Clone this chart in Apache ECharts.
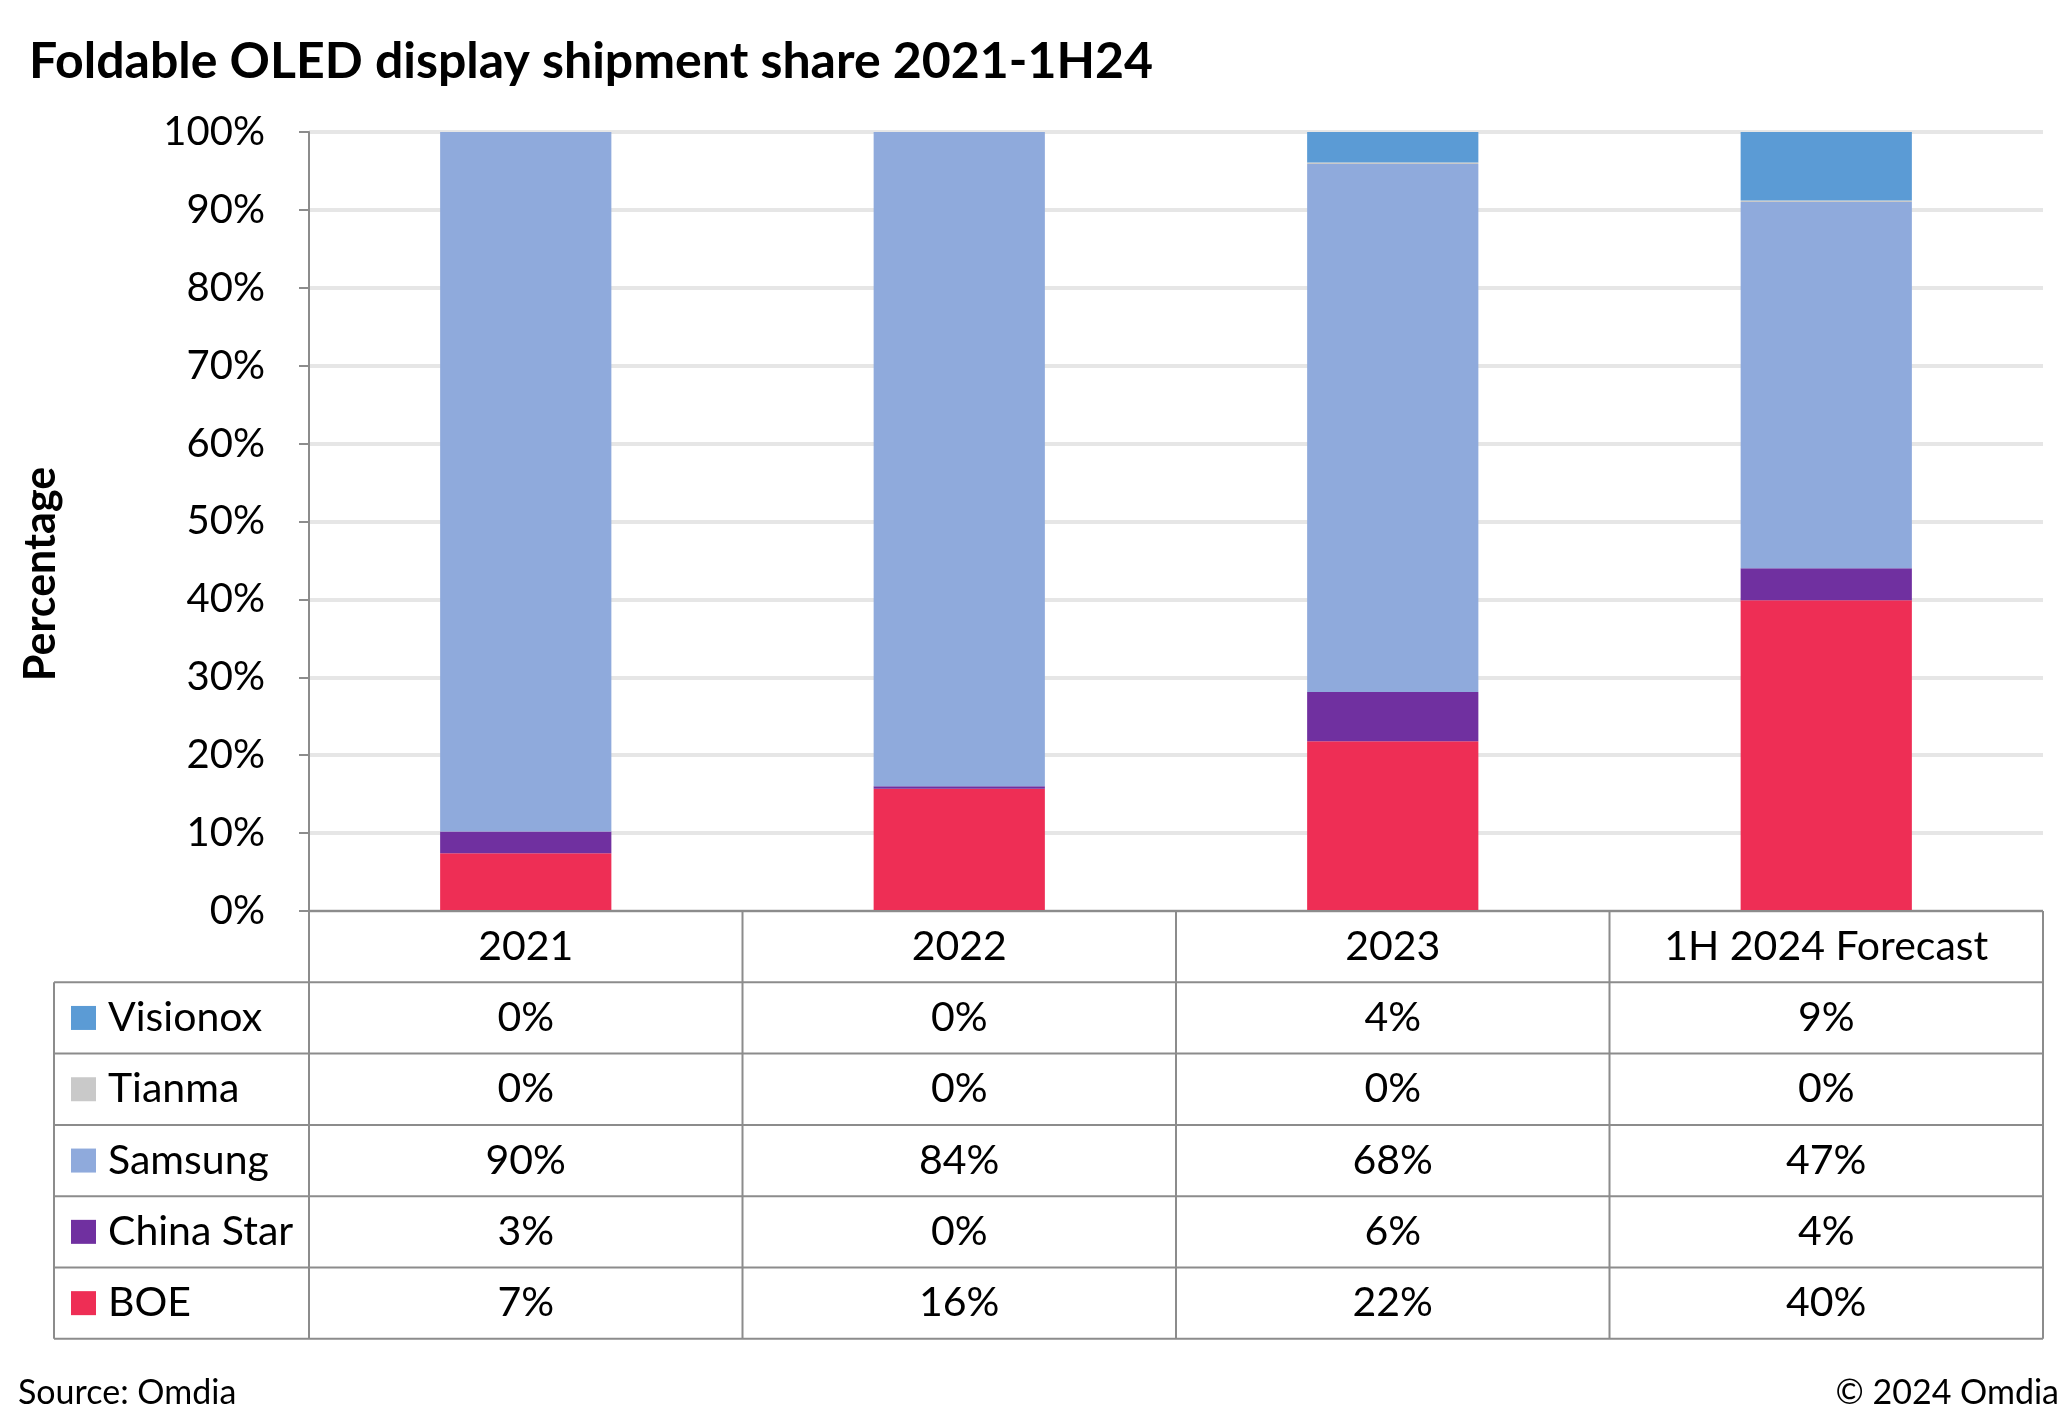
<!DOCTYPE html>
<html>
<head>
<meta charset="utf-8">
<script src="https://cdn.jsdelivr.net/npm/echarts@6/dist/echarts.min.js"></script>
<style>
html,body{margin:0;padding:0;background:#fff;}
#main{width:2068px;height:1421px;}
</style>
</head>
<body>
<div id="main"></div>
<script>
const titleText = 'Foldable OLED display shipment share 2021-1H24';
const categories = ['2021', '2022', '2023', '1H 2024 Forecast'];
const seriesNames = ['BOE', 'China Star', 'Samsung', 'Tianma', 'Visionox'];
const boe = [7.4, 15.7, 21.8, 39.9];
const chinaStar = [2.8, 0.3, 6.3, 4.1];
const samsung = [89.8, 84.0, 67.8, 47.0];
const tianma = [0, 0, 0.2, 0.2];
const visionox = [0, 0, 3.9, 8.8];
const colors = ['#EE2E55', '#7030A0', '#8FAADC', '#C9C9C9', '#5B9BD5'];
const yMin = 0, yMax = 100, yInterval = 10;
const sourceText = 'Source: Omdia';
const copyrightText = '\u00A9 2024 Omdia';

const FONT = 'Lato';
const seriesData = [boe, chinaStar, samsung, tianma, visionox];

const chart = echarts.init(document.getElementById('main'), null, {renderer: 'canvas'});

const series = seriesNames.map((n, i) => ({
  name: n,
  type: 'bar',
  stack: 'total',
  data: seriesData[i],
  barWidth: '39.5%',
  itemStyle: {color: colors[i]},
  emphasis: {disabled: true}
}));

chart.setOption({
  animation: false,
  backgroundColor: '#ffffff',
  textStyle: {fontFamily: FONT},
  title: {
    text: titleText,
    left: 24, top: 32,
    textStyle: {fontFamily: FONT, fontWeight: 'bold', fontSize: 50, color: '#000'}
  },
  grid: {left: 309, right: 25, top: 132, bottom: 510, containLabel: false},
  xAxis: {
    type: 'category',
    data: categories,
    axisLine: {show: false},
    axisTick: {show: false},
    axisLabel: {show: false}
  },
  yAxis: {
    type: 'value',
    min: yMin, max: yMax, interval: yInterval,
    axisLine: {show: true, lineStyle: {color: '#8c8c8c', width: 2}},
    axisTick: {show: true, inside: false, length: 10, lineStyle: {color: '#8c8c8c', width: 2}},
    axisLabel: {formatter: '{value}%', fontFamily: FONT, fontSize: 40, color: '#000', margin: 44},
    splitLine: {show: true, lineStyle: {color: '#e6e6e6', width: 4}}
  },
  series: series
});

function buildTable() {
  const c0 = chart.convertToPixel({xAxisIndex: 0}, 0);
  const c1 = chart.convertToPixel({xAxisIndex: 0}, 1);
  const band = c1 - c0;
  const base = chart.convertToPixel({yAxisIndex: 0}, yMin);
  const gridLeft = c0 - band / 2;
  const gridRight = chart.convertToPixel({xAxisIndex: 0}, categories.length - 1) + band / 2;
  const rowH = 71.3;
  const tableLeft = 54;
  const nRows = seriesNames.length;
  const bottom = base + rowH * (nRows + 1);
  const lineStyle = {stroke: '#8c8c8c', lineWidth: 2};
  const FS = 41;
  const g = [];
  g.push({type: 'line', shape: {x1: gridLeft, y1: base, x2: gridRight, y2: base}, style: lineStyle, z: 10});
  for (let k = 1; k <= nRows + 1; k++) {
    const y = base + rowH * k;
    g.push({type: 'line', shape: {x1: tableLeft, y1: y, x2: gridRight, y2: y}, style: lineStyle, z: 10});
  }
  g.push({type: 'line', shape: {x1: tableLeft, y1: base + rowH, x2: tableLeft, y2: bottom}, style: lineStyle, z: 10});
  for (let j = 0; j <= categories.length; j++) {
    const x = gridLeft + band * j;
    g.push({type: 'line', shape: {x1: x, y1: base, x2: x, y2: bottom}, style: lineStyle, z: 10});
  }
  categories.forEach((c, j) => {
    g.push({type: 'text', x: gridLeft + band * (j + 0.5), y: base + rowH / 2,
      style: {text: c, fontFamily: FONT, fontSize: FS, fill: '#000', align: 'center', verticalAlign: 'middle'}, z: 11});
  });
  for (let r = 0; r < nRows; r++) {
    const si = nRows - 1 - r;
    const yc = base + rowH * (r + 1) + rowH / 2;
    g.push({type: 'rect', shape: {x: tableLeft + 17, y: yc - 12, width: 25, height: 24},
      style: {fill: colors[si]}, z: 11});
    g.push({type: 'text', x: tableLeft + 54, y: yc,
      style: {text: seriesNames[si], fontFamily: FONT, fontSize: FS, fill: '#000', align: 'left', verticalAlign: 'middle'}, z: 11});
    seriesData[si].forEach((v, j) => {
      g.push({type: 'text', x: gridLeft + band * (j + 0.5), y: yc,
        style: {text: Math.round(v) + '%', fontFamily: FONT, fontSize: FS, fill: '#000', align: 'center', verticalAlign: 'middle'}, z: 11});
    });
  }
  g.push({type: 'text', x: 41, y: 574, rotation: Math.PI / 2,
    style: {text: 'Percentage', fontFamily: FONT, fontWeight: 'bold', fontSize: 43, fill: '#000', align: 'center', verticalAlign: 'middle'}, z: 11});
  g.push({type: 'text', x: 18, y: 1393,
    style: {text: sourceText, fontFamily: FONT, fontSize: 34, fill: '#000', align: 'left', verticalAlign: 'middle'}, z: 11});
  g.push({type: 'text', x: 2059, y: 1393,
    style: {text: copyrightText, fontFamily: FONT, fontSize: 34, fill: '#000', align: 'right', verticalAlign: 'middle'}, z: 11});
  chart.setOption({graphic: g});
}
buildTable();
</script>
</body>
</html>
